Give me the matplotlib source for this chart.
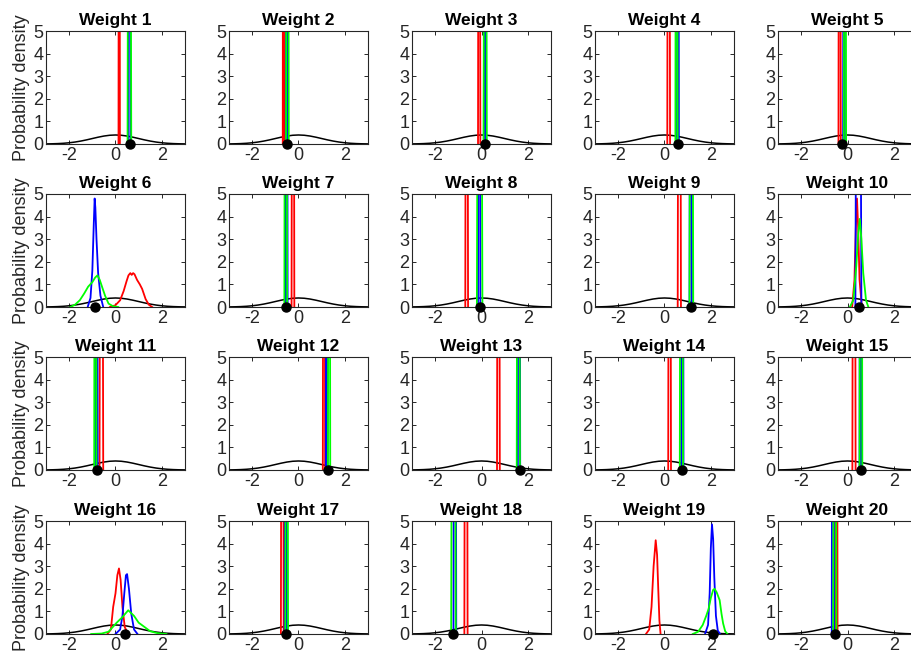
import matplotlib
matplotlib.use('Agg')
import matplotlib.pyplot as plt

plt.rcParams['font.family'] = ['Liberation Sans', 'DejaVu Sans']
plt.rcParams['axes.unicode_minus'] = False

titles = ['Weight %d' % (i + 1) for i in range(20)]

# true weight values (black dots)
true_w = [0.64, -0.48, 0.16, 0.58, -0.22, -0.89, -0.52, -0.06, 1.15, 0.50,
          -0.80, 1.26, 1.67, 0.77, 0.58, 0.41, -0.52, -1.21, 2.09, -0.55]

# prior density N(0,1)
prior_x = [-3.0, -2.75, -2.5, -2.25, -2.0, -1.75, -1.5, -1.25, -1.0, -0.75, -0.5, -0.25, 0.0,
           0.25, 0.5, 0.75, 1.0, 1.25, 1.5, 1.75, 2.0, 2.25, 2.5, 2.75, 3.0]
prior_y = [0.0044, 0.0091, 0.0175, 0.0317, 0.0540, 0.0863, 0.1295, 0.1826, 0.2420, 0.3011, 0.3521, 0.3867, 0.3989,
           0.3867, 0.3521, 0.3011, 0.2420, 0.1826, 0.1295, 0.0863, 0.0540, 0.0317, 0.0175, 0.0091, 0.0044]

# very narrow posteriors (go off the scale): centre and half-width at base
SPIKE_PEAK = 40.0
red_c = [0.16, -0.65, -0.10, 0.18, -0.34, None, -0.24, -0.64, 0.64, None,
         -0.61, 1.10, 0.73, 0.22, 0.28, None, -0.70, -0.67, None, -0.48]
red_w = [0.03, 0.03, 0.05, 0.06, 0.05, None, 0.06, 0.06, 0.07, None,
         0.08, 0.05, 0.06, 0.06, 0.07, None, 0.06, 0.07, None, 0.05]
green_c = [0.60, -0.48, 0.16, 0.52, -0.11, None, -0.55, -0.08, 1.16, None,
           -0.87, 1.32, 1.59, 0.73, 0.58, None, -0.51, -1.21, None, -0.55]
green_w = [0.08, 0.06, 0.07, 0.05, 0.05, None, 0.06, 0.12, 0.08, None,
           0.05, 0.05, 0.07, 0.07, 0.06, None, 0.06, 0.10, None, 0.07]
blue_c = [0.59, -0.51, 0.14, 0.58, -0.15, None, -0.51, -0.10, 1.13, 0.47,
          -0.81, 1.22, 1.62, 0.77, 0.56, None, -0.55, -1.15, None, -0.63]
blue_w = [0.05, 0.04, 0.04, 0.04, 0.04, None, 0.04, 0.05, 0.05, 0.13,
          0.04, 0.04, 0.05, 0.05, 0.04, None, 0.05, 0.06, None, 0.05]

# broader posteriors read point by point
w6_red_x = [-0.24, 0.0, 0.2, 0.35, 0.48, 0.56, 0.64, 0.70, 0.76, 0.82, 0.93, 1.05, 1.15, 1.30, 1.44, 1.58]
w6_red_y = [0.0, 0.08, 0.3, 0.7, 1.15, 1.4, 1.5, 1.42, 1.5, 1.45, 1.2, 1.0, 0.8, 0.35, 0.1, 0.0]
w6_green_x = [-1.95, -1.75, -1.54, -1.35, -1.18, -1.0, -0.88, -0.78, -0.68, -0.55, -0.45, -0.3, -0.1, 0.12]
w6_green_y = [0.0, 0.1, 0.3, 0.6, 0.9, 1.1, 1.3, 1.4, 1.2, 0.8, 0.5, 0.15, 0.03, 0.0]
w6_blue_x = [-1.2, -1.08, -1.0, -0.94, -0.9, -0.87, -0.82, -0.75, -0.65, -0.53]
w6_blue_y = [0.0, 0.4, 1.6, 3.6, 4.8, 4.4, 3.0, 1.5, 0.5, 0.0]

w10_red_x = [0.20, 0.30, 0.36, 0.41, 0.46, 0.52, 0.62]
w10_red_y = [0.0, 1.2, 3.5, 4.8, 3.5, 1.2, 0.0]
w10_green_x = [0.10, 0.25, 0.38, 0.46, 0.53, 0.60, 0.68, 0.80, 0.90]
w10_green_y = [0.0, 0.3, 1.8, 3.2, 3.9, 3.0, 1.5, 0.3, 0.0]

w16_red_x = [-0.35, -0.2, -0.1, 0.0, 0.08, 0.15, 0.22, 0.3, 0.4, 0.55]
w16_red_y = [0.0, 0.2, 1.2, 1.8, 2.6, 2.9, 2.4, 1.2, 0.3, 0.0]
w16_green_x = [-1.05, -0.6, -0.3, 0.05, 0.3, 0.55, 0.8, 1.0, 1.2, 1.5, 1.8, 2.2]
w16_green_y = [0.0, 0.02, 0.1, 0.5, 0.75, 1.05, 0.8, 0.5, 0.35, 0.12, 0.04, 0.0]
w16_blue_x = [0.0, 0.2, 0.3, 0.38, 0.45, 0.5, 0.58, 0.68, 0.8, 0.95]
w16_blue_y = [0.0, 0.2, 0.8, 1.8, 2.6, 2.65, 2.0, 0.9, 0.2, 0.0]

w19_red_x = [-0.8, -0.66, -0.56, -0.47, -0.38, -0.32, -0.27, -0.22, -0.17]
w19_red_y = [0.0, 0.2, 1.2, 3.0, 4.15, 3.5, 2.0, 0.6, 0.0]
w19_green_x = [1.22, 1.45, 1.65, 1.8, 1.9, 2.0, 2.1, 2.16, 2.25, 2.38, 2.46, 2.53, 2.62, 2.72]
w19_green_y = [0.0, 0.1, 0.4, 0.8, 1.1, 1.6, 1.95, 2.0, 1.85, 1.5, 0.9, 0.47, 0.12, 0.0]
w19_blue_x = [1.75, 1.88, 1.95, 2.0, 2.05, 2.1, 2.15, 2.22, 2.3, 2.4]
w19_blue_y = [0.0, 0.4, 1.8, 3.8, 4.85, 4.2, 2.5, 0.8, 0.15, 0.0]

explicit = {
    (5, 'r'): (w6_red_x, w6_red_y), (5, 'g'): (w6_green_x, w6_green_y), (5, 'b'): (w6_blue_x, w6_blue_y),
    (9, 'r'): (w10_red_x, w10_red_y), (9, 'g'): (w10_green_x, w10_green_y),
    (15, 'r'): (w16_red_x, w16_red_y), (15, 'g'): (w16_green_x, w16_green_y), (15, 'b'): (w16_blue_x, w16_blue_y),
    (18, 'r'): (w19_red_x, w19_red_y), (18, 'g'): (w19_green_x, w19_green_y), (18, 'b'): (w19_blue_x, w19_blue_y),
}
spikes = {'r': (red_c, red_w), 'g': (green_c, green_w), 'b': (blue_c, blue_w)}
colors = {'r': (1, 0, 0), 'g': (0, 1, 0), 'b': (0, 0, 1)}

W, H = 912, 658
fig = plt.figure(figsize=(W / 100, H / 100), dpi=100)
col_left = [46, 229, 412, 595, 778]
row_top = [31, 194, 357, 521]
aw, ah = 139, 113
gray = '#262626'

for i in range(20):
    r, c = divmod(i, 5)
    ax = fig.add_axes([col_left[c] / W, 1 - (row_top[r] + ah) / H, aw / W, ah / H])
    ax.plot(prior_x, prior_y, color='k', lw=1.1)
    for key in ['r', 'b', 'g']:
        if (i, key) in explicit:
            xs, ys = explicit[(i, key)]
        else:
            cs, ws = spikes[key]
            if cs[i] is None:
                continue
            xs = [cs[i] - ws[i], cs[i], cs[i] + ws[i]]
            ys = [0, SPIKE_PEAK, 0]
        ax.plot(xs, ys, color=colors[key], lw=1.3)
    ax.plot([true_w[i]], [0], 'o', color='k', ms=6.5, clip_on=False, zorder=5)
    ax.set_xlim(-3, 3)
    ax.set_ylim(0, 5)
    ax.set_xticks([-2, 0, 2])
    ax.set_yticks([0, 1, 2, 3, 4, 5])
    ax.tick_params(direction='in', length=3, width=0.7, top=True, right=True,
                   labelsize=13, colors=gray, pad=2)
    for s in ax.spines.values():
        s.set_color(gray)
        s.set_linewidth(0.8)
    ax.set_title(titles[i], fontsize=12.5, fontweight='bold', pad=4)
    if c == 0:
        ax.set_ylabel('Probability density', fontsize=13, color=gray, labelpad=2)

fig.savefig('out.png', dpi=100)
